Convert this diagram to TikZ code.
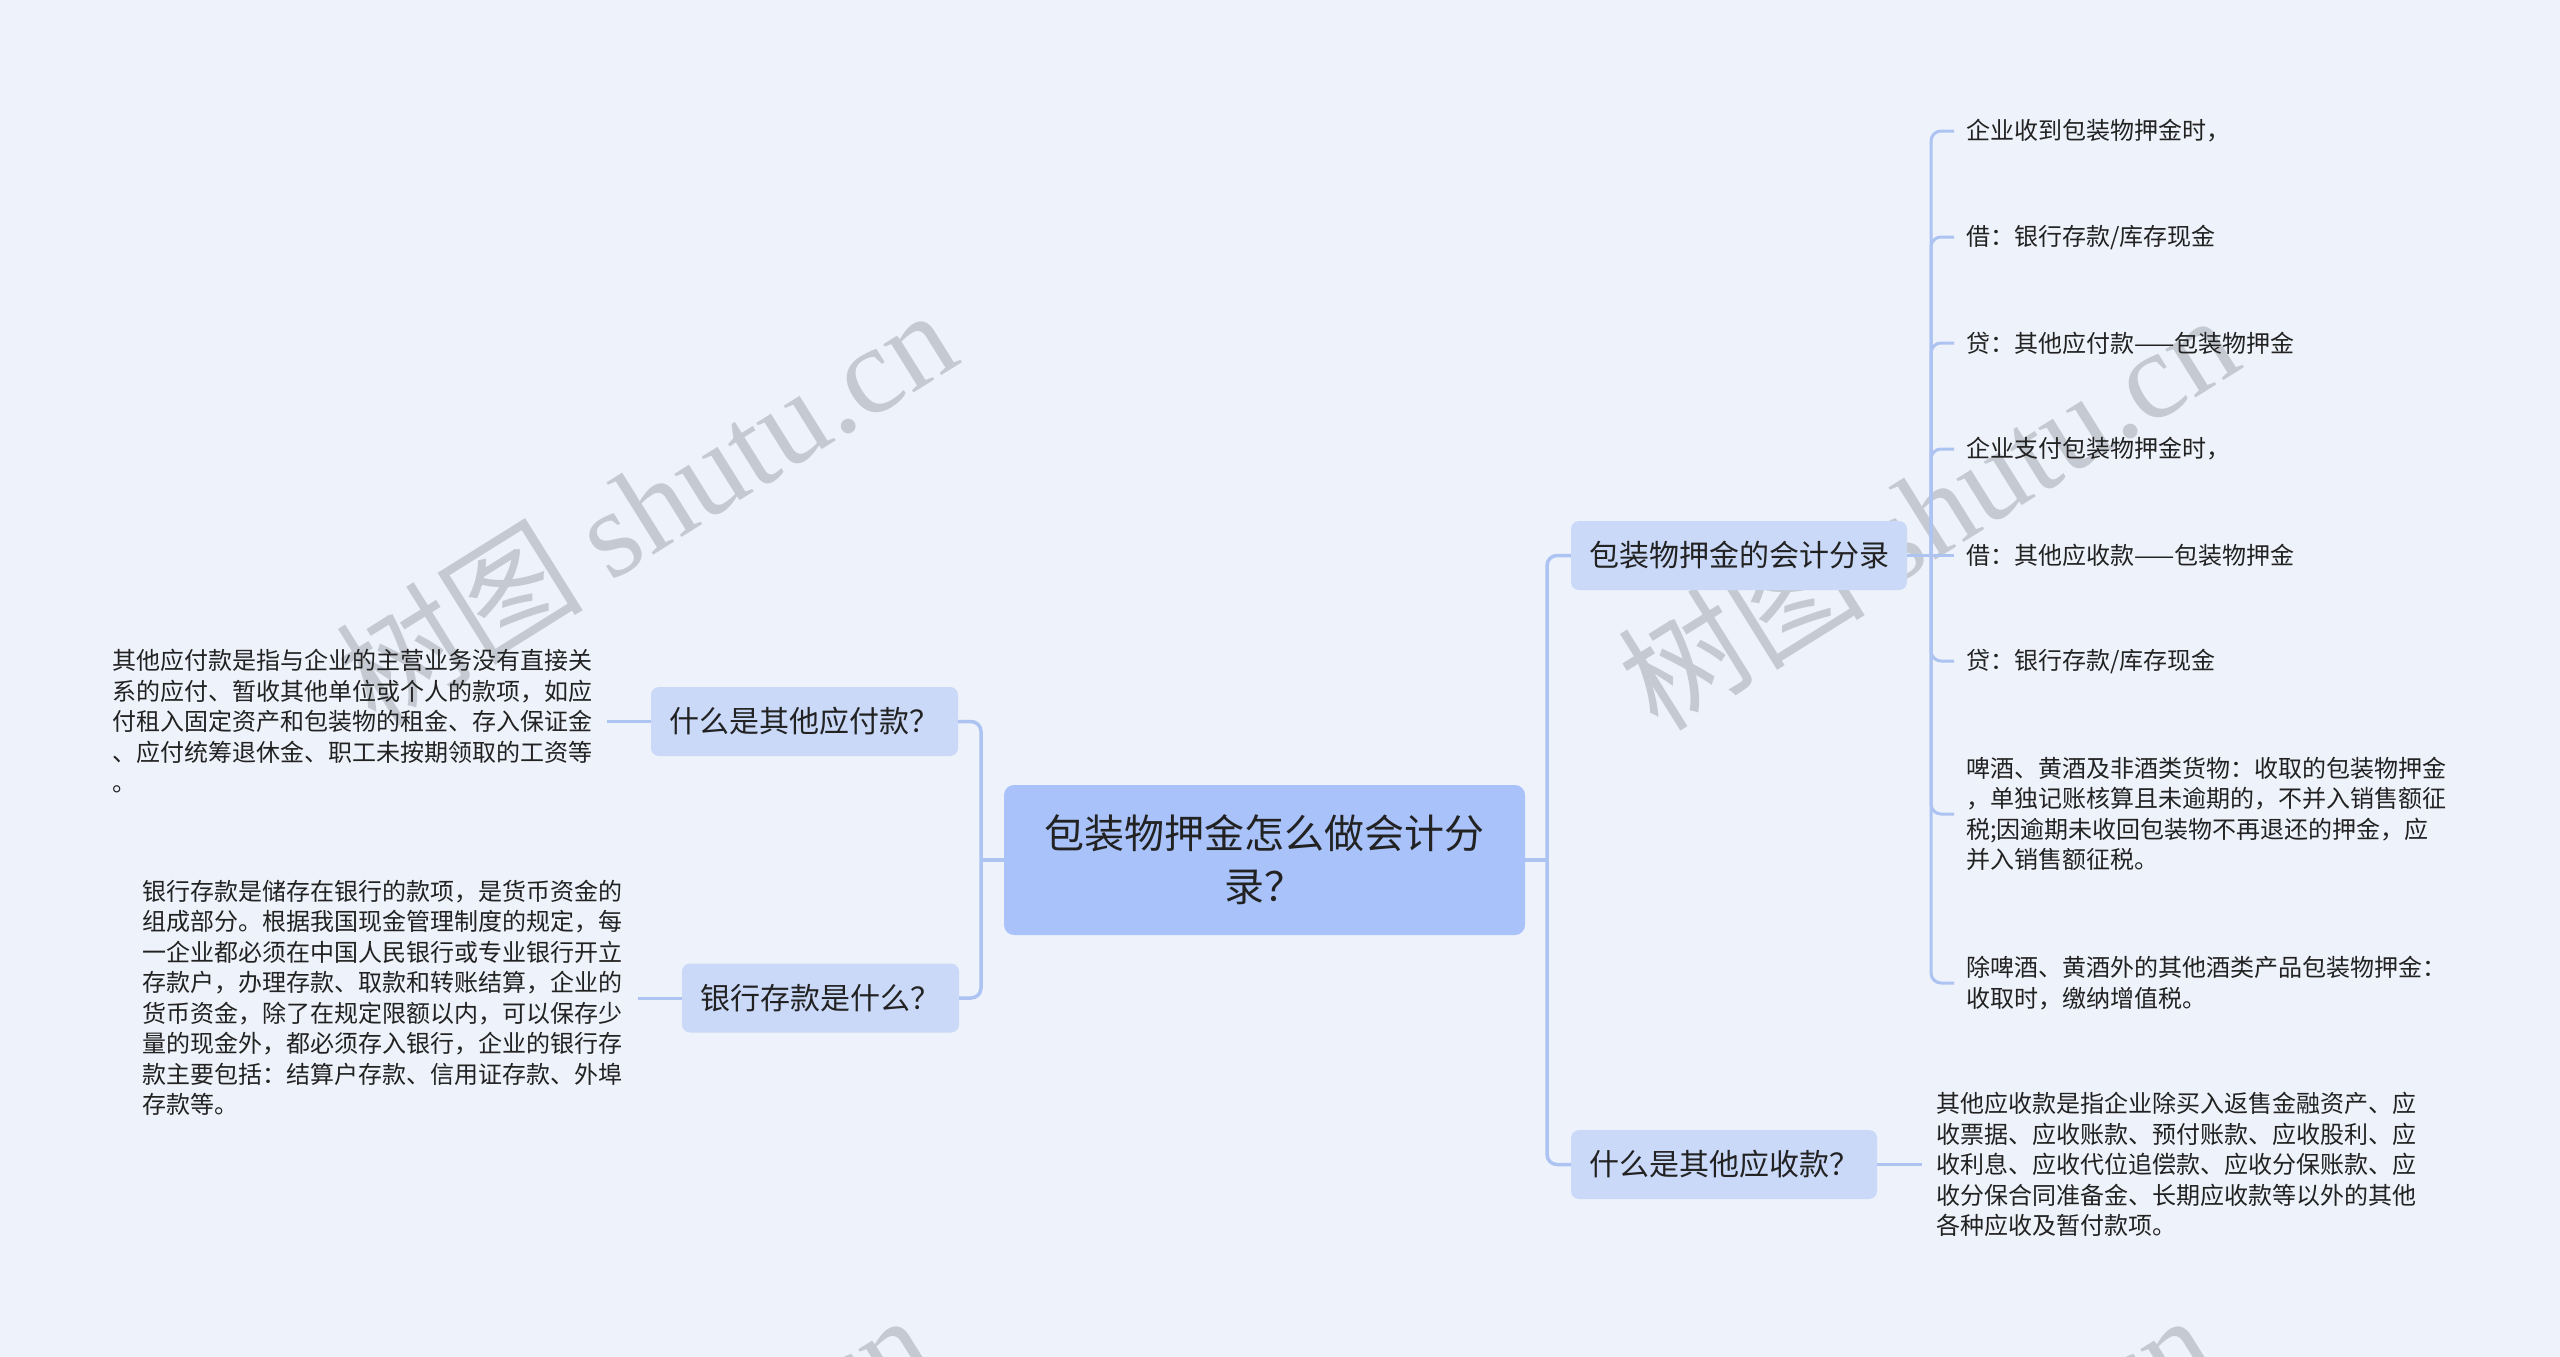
\documentclass[tikz,border=0pt]{standalone}
\usepackage{fontspec}
\setmainfont{Noto Sans CJK SC}
\newfontfamily\wmserif{Liberation Serif}
\newfontfamily\wmcjk{Noto Sans CJK SC}
\definecolor{bgc}{HTML}{EEF2FA}
\definecolor{rootfill}{HTML}{A9C3FA}
\definecolor{subfill}{HTML}{CAD9F8}
\definecolor{linec}{HTML}{ADC3F2}
\definecolor{txt}{HTML}{222222}
\definecolor{wmc}{HTML}{C5C9D1}
\begin{document}
\begin{tikzpicture}[x=1pt,y=-1pt,
  root/.style={fill=rootfill, rounded corners=10pt, minimum width=521pt, minimum height=150pt, inner sep=0pt, align=center, font=\fontsize{40}{53}\selectfont, text=txt},
  sub/.style={fill=subfill, rounded corners=8pt, minimum height=69pt, inner sep=0pt, font=\fontsize{30}{36}\selectfont, text=txt},
  leaf/.style={inner ysep=0pt, inner xsep=12pt, align=left, font=\fontsize{24}{30.5}\selectfont, text=txt},
  conn/.style={draw=linec, line width=3.5pt, rounded corners=10pt},
  twig/.style={draw=linec, line width=3pt, rounded corners=10pt},
  wm/.style={text=wmc, font=\fontsize{124}{130}\selectfont, inner sep=0pt}
]
\useasboundingbox (0,0) rectangle (2560,1357);
\fill[bgc] (0,0) rectangle (2560,1357);
\clip (0,0) rectangle (2560,1357);

% watermarks
\node[wm, rotate=32] (w1) at (645,505) {\wmcjk 树图 \wmserif shutu.cn};
\node[wm, rotate=32] (w2) at (1927,510) {\wmcjk 树图 \wmserif shutu.cn};
\node[wm, rotate=32] (w3) at (620,1510) {\wmcjk 树图 \wmserif shutu.cn};
\node[wm, rotate=32] (w4) at (1902,1510) {\wmcjk 树图 \wmserif shutu.cn};

% central
\node[root] (c) at (1264.5,860) {包装物押金怎么做会计分\\录？};

% right subtopics
\node[sub, minimum width=336pt] (a) at (1739,555.5) {包装物押金的会计分录};
\node[sub, minimum width=306pt] (b) at (1724,1164.5) {什么是其他应收款？};

% left subtopics
\node[sub, minimum width=307pt] (l1) at (804.5,721.5) {什么是其他应付款？};
\node[sub, minimum width=277pt] (l2) at (820.5,998) {银行存款是什么？};

% right leaves
\node[leaf, anchor=west] (r1) at (1954,131) {企业收到包装物押金时，};
\node[leaf, anchor=west] (r2) at (1954,237) {借：银行存款/库存现金};
\node[leaf, anchor=west] (r3) at (1954,343) {贷：其他应付款——包装物押金};
\node[leaf, anchor=west] (r4) at (1954,449) {企业支付包装物押金时，};
\node[leaf, anchor=west] (r5) at (1954,555.5) {借：其他应收款——包装物押金};
\node[leaf, anchor=west] (r6) at (1954,661) {贷：银行存款/库存现金};
\node[leaf, anchor=west] (r7) at (1954,814) {啤酒、黄酒及非酒类货物：收取的包装物押金\\，单独记账核算且未逾期的，不并入销售额征\\税;因逾期未收回包装物不再退还的押金，应\\并入销售额征税。};
\node[leaf, anchor=west] (r8) at (1954,983) {除啤酒、黄酒外的其他酒类产品包装物押金：\\收取时，缴纳增值税。};

\node[leaf, anchor=west, inner xsep=14pt] (bt) at (1922,1164.5) {其他应收款是指企业除买入返售金融资产、应\\收票据、应收账款、预付账款、应收股利、应\\收利息、应收代位追偿款、应收分保账款、应\\收分保合同准备金、长期应收款等以外的其他\\各种应收及暂付款项。};

% left leaves
\node[leaf, anchor=east, inner xsep=14pt] (l1t) at (607,721.5) {其他应付款是指与企业的主营业务没有直接关\\系的应付、暂收其他单位或个人的款项，如应\\付租入固定资产和包装物的租金、存入保证金\\、应付统筹退休金、职工未按期领取的工资等\\。};
\node[leaf, anchor=east, inner xsep=15pt] (l2t) at (638,998) {银行存款是储存在银行的款项，是货币资金的\\组成部分。根据我国现金管理制度的规定，每\\一企业都必须在中国人民银行或专业银行开立\\存款户，办理存款、取款和转账结算，企业的\\货币资金，除了在规定限额以内，可以保存少\\量的现金外，都必须存入银行，企业的银行存\\款主要包括：结算户存款、信用证存款、外埠\\存款等。};

% junctions
\coordinate (jr) at (1547,860);
\coordinate (jl) at (981,860);
\coordinate (ja) at (1931,555.5);

% connectors
\draw[conn] (c.east) -- (jr);
\draw[conn] (jr) |- (a.west);
\draw[conn] (jr) |- (b.west);
\draw[conn] (c.west) -- (jl);
\draw[conn] (jl) |- (l1.east);
\draw[conn] (jl) |- (l2.east);

\draw[twig] (a.east) -- (ja);
\foreach \r in {r1,r2,r3,r4,r6,r7,r8} { \draw[twig] (ja) |- (\r.west); }
\draw[twig] (ja) -- (r5.west);

\draw[twig] (b.east) -- (bt.west);
\draw[twig] (l1.west) -- (l1t.east);
\draw[twig] (l2.west) -- (l2t.east);
\end{tikzpicture}
\end{document}
